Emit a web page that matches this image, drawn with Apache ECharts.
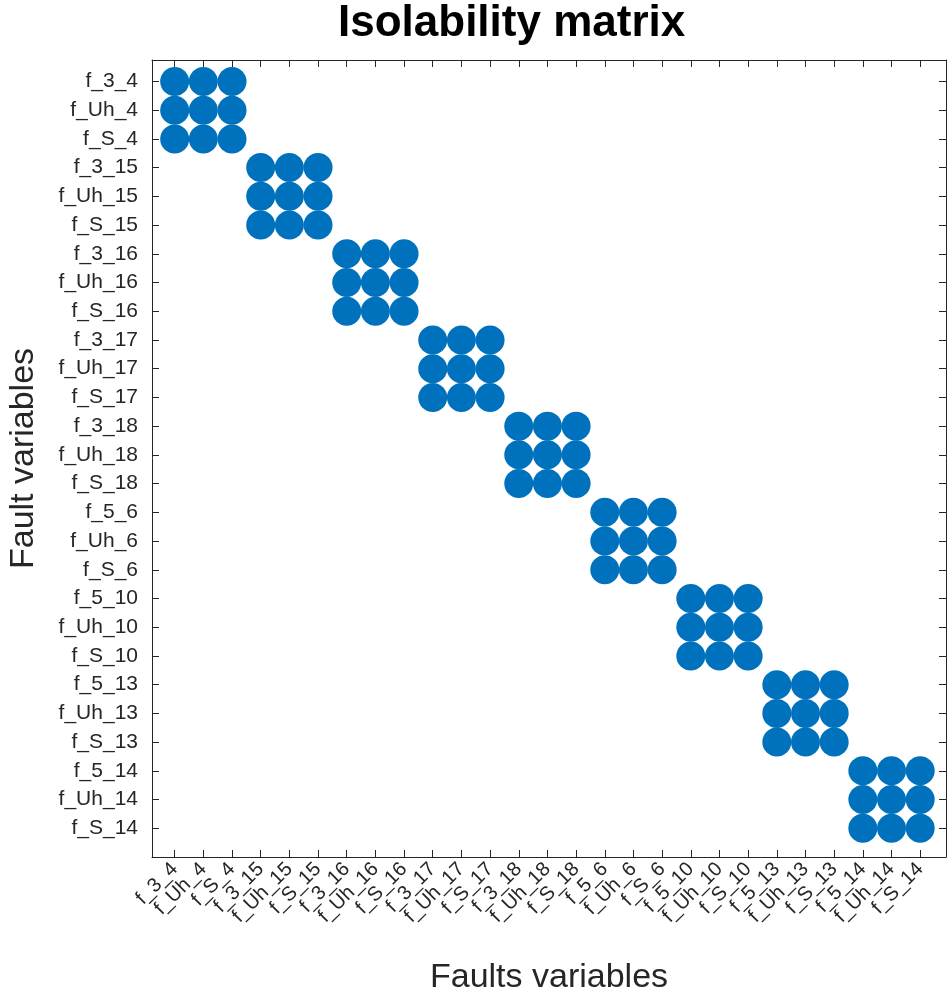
<!DOCTYPE html>
<html>
<head>
<meta charset="utf-8">
<script src="https://cdn.jsdelivr.net/npm/echarts@6/dist/echarts.min.js"></script>
<style>html,body{margin:0;padding:0;background:#fff}#c{width:947px;height:995px}</style>
</head>
<body>
<div id="c"></div>
<script>
// Category labels (same for both axes)
var faultLabels = [
  'f_3_4','f_Uh_4','f_S_4',
  'f_3_15','f_Uh_15','f_S_15',
  'f_3_16','f_Uh_16','f_S_16',
  'f_3_17','f_Uh_17','f_S_17',
  'f_3_18','f_Uh_18','f_S_18',
  'f_5_6','f_Uh_6','f_S_6',
  'f_5_10','f_Uh_10','f_S_10',
  'f_5_13','f_Uh_13','f_S_13',
  'f_5_14','f_Uh_14','f_S_14'
];
// For each row (fault variable), the columns (faults variables) that hold a dot
var filledColumns = [
  [0,1,2],[0,1,2],[0,1,2],
  [3,4,5],[3,4,5],[3,4,5],
  [6,7,8],[6,7,8],[6,7,8],
  [9,10,11],[9,10,11],[9,10,11],
  [12,13,14],[12,13,14],[12,13,14],
  [15,16,17],[15,16,17],[15,16,17],
  [18,19,20],[18,19,20],[18,19,20],
  [21,22,23],[21,22,23],[21,22,23],
  [24,25,26],[24,25,26],[24,25,26]
];
var tickPositions = faultLabels.map(function(_, i){ return i + 1; });

var points = [];
filledColumns.forEach(function(cols, r){
  cols.forEach(function(c){ points.push([c + 1, r + 1]); });
});

var axisColor = '#262626';
var fontFam = '"Liberation Sans", Arial, Helvetica, sans-serif';
function fmt(v){ var i = Math.round(v) - 1; return faultLabels[i] || ''; }

var chart = echarts.init(document.getElementById('c'));
chart.setOption({
  animation: false,
  backgroundColor: '#ffffff',
  title: {
    text: 'Isolability matrix',
    left: 333, top: -3,
    textStyle: { fontFamily: fontFam, fontWeight: 'bold', fontSize: 44, color: '#000' }
  },
  grid: { left: 152, right: 1, top: 60, bottom: 138, containLabel: false, outerBoundsMode: 'none' },
  xAxis: [{
    type: 'value', min: 0.209, max: 27.9, position: 'bottom',
    name: 'Faults variables', nameLocation: 'middle', nameGap: 104,
    nameTextStyle: { fontFamily: fontFam, fontSize: 34, color: axisColor },
    axisLine: { show: true, onZero: false, lineStyle: { color: axisColor, width: 1 } },
    axisTick: { show: true, inside: true, length: 7, customValues: tickPositions, lineStyle: { color: axisColor } },
    axisLabel: { show: true, customValues: tickPositions, rotate: 45, margin: 9, formatter: fmt,
      fontFamily: fontFam, fontSize: 20, color: axisColor },
    splitLine: { show: false }
  }, {
    type: 'value', min: 0.209, max: 27.9, position: 'top',
    axisLine: { show: true, onZero: false, lineStyle: { color: axisColor, width: 1 } },
    axisTick: { show: true, inside: true, length: 7, customValues: tickPositions, lineStyle: { color: axisColor } },
    axisLabel: { show: false },
    splitLine: { show: false }
  }],
  yAxis: [{
    type: 'value', min: 0.254, max: 28, inverse: true, position: 'left',
    name: 'Fault variables', nameLocation: 'middle', nameGap: 111, nameRotate: 90,
    nameTextStyle: { fontFamily: fontFam, fontSize: 34, color: axisColor },
    axisLine: { show: true, onZero: false, lineStyle: { color: axisColor, width: 1 } },
    axisTick: { show: true, inside: true, length: 7, customValues: tickPositions, lineStyle: { color: axisColor } },
    axisLabel: { show: true, customValues: tickPositions, margin: 14, formatter: fmt,
      fontFamily: fontFam, fontSize: 21, color: axisColor },
    splitLine: { show: false }
  }, {
    type: 'value', min: 0.254, max: 28, inverse: true, position: 'right',
    axisLine: { show: true, onZero: false, lineStyle: { color: axisColor, width: 1 } },
    axisTick: { show: true, inside: true, length: 7, customValues: tickPositions, lineStyle: { color: axisColor } },
    axisLabel: { show: false },
    splitLine: { show: false }
  }],
  series: [{
    type: 'scatter',
    xAxisIndex: 0, yAxisIndex: 0,
    data: points,
    symbol: 'circle',
    symbolSize: 29,
    itemStyle: { color: '#0072BD', opacity: 1 }
  }]
});
</script>
</body>
</html>
